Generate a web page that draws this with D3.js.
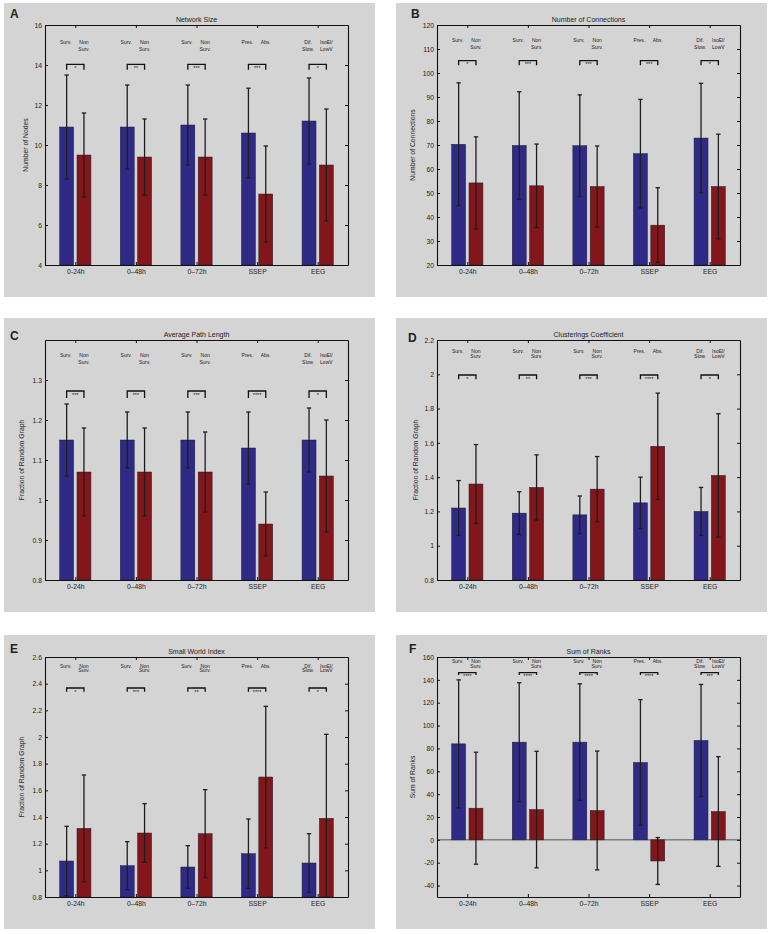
<!DOCTYPE html>
<html><head><meta charset="utf-8">
<script src="https://cdn.jsdelivr.net/npm/d3@7"></script>
<style>
body{margin:0;background:#fff}
svg{display:block}
text{font-family:"Liberation Sans",Arial,Helvetica,sans-serif;fill:#222}
</style>
</head><body>
<svg id="chart" width="772" height="934"></svg>
<script>
// ---------------- DATA ----------------
const categories = ["0-24h", "0\u201348h", "0\u201372h", "SSEP", "EEG"];
const blueGroupLabels = [["Surv."], ["Surv."], ["Surv."], ["Pres."], ["Dif.", "Slow."]];
const redGroupLabels  = [["Non", "Surv."], ["Non", "Surv."], ["Non", "Surv."], ["Abs."], ["IsoEl/", "LowV"]];

const panelLetters = ["A", "B", "C", "D", "E", "F"];
const titles = ["Network Size", "Number of Connections", "Average Path Length",
                "Clusterings Coefficient", "Small World Index", "Sum of Ranks"];
const yLabels = ["Number of Nodes", "Number of Connections", "Fraction of Random Graph",
                 "Fraction of Random Graph", "Fraction of Random Graph", "Sum of Ranks"];

// Network Size
const sizeBlue   = [10.9, 10.9, 11.0, 10.6, 11.2];
const sizeBlueSD = [2.6, 2.1, 2.0, 2.24, 2.15];
const sizeRed    = [9.5, 9.4, 9.4, 7.55, 9.0];
const sizeRedSD  = [2.1, 1.9, 1.9, 2.4, 2.8];
const sizeSig    = ["*", "**", "***", "***", "*"];
const sizeTicks  = [4, 6, 8, 10, 12, 14, 16];

// Number of Connections
const connBlue   = [70.3, 69.8, 69.7, 66.4, 72.9];
const connBlueSD = [25.6, 22.4, 21.2, 22.6, 22.8];
const connRed    = [54.2, 53.0, 52.7, 36.6, 52.7];
const connRedSD  = [19.2, 17.4, 16.9, 15.6, 21.8];
const connSig    = ["*", "***", "***", "***", "*"];
const connTicks  = [20, 30, 40, 50, 60, 70, 80, 90, 100, 110, 120];

// Average Path Length
const pathBlue   = [1.15, 1.15, 1.15, 1.13, 1.15];
const pathBlueSD = [0.09, 0.07, 0.07, 0.09, 0.08];
const pathRed    = [1.07, 1.07, 1.07, 0.94, 1.06];
const pathRedSD  = [0.11, 0.11, 0.10, 0.08, 0.14];
const pathSig    = ["***", "***", "***", "****", "*"];
const pathTicks  = [0.8, 0.9, 1.0, 1.1, 1.2, 1.3];

// Clustering Coefficient
const clusBlue   = [1.22, 1.19, 1.18, 1.25, 1.20];
const clusBlueSD = [0.16, 0.125, 0.11, 0.15, 0.14];
const clusRed    = [1.36, 1.34, 1.33, 1.58, 1.41];
const clusRedSD  = [0.23, 0.19, 0.19, 0.31, 0.36];
const clusSig    = ["*", "**", "***", "****", "*"];
const clusTicks  = [0.8, 1.0, 1.2, 1.4, 1.6, 1.8, 2.0, 2.2];

// Small World Index
const swiBlue    = [1.07, 1.035, 1.025, 1.125, 1.055];
const swiBlueSD  = [0.26, 0.18, 0.16, 0.26, 0.22];
const swiRed     = [1.315, 1.28, 1.275, 1.70, 1.39];
const swiRedSD   = [0.40, 0.22, 0.33, 0.53, 0.63];
const swiSig     = ["*", "***", "**", "****", "*"];
const swiTicks   = [0.8, 1.0, 1.2, 1.4, 1.6, 1.8, 2.0, 2.2, 2.4, 2.6];

// Sum of Ranks
const rankBlue   = [84, 85.5, 85.5, 67.7, 87];
const rankBlueSD = [56, 52, 51, 55, 49];
const rankRed    = [27.7, 26.5, 25.7, -18.5, 24.8];
const rankRedSD  = [49, 51, 52, 20.5, 48];
const rankSig    = ["****", "****", "****", "****", "***"];
const rankTicks  = [-40, -20, 0, 20, 40, 60, 80, 100, 120, 140, 160];

// ---------------- LAYOUT ----------------
const COLORS = {blue: "#2f2a86", red: "#82161a", bg: "#d4d4d4"};
const PW = 371, PH = 294;
const AX = 41, AY = 22, AW = 303, AH = 240;

const panelCfg = [
  {ox: 4,   oy: 3,   dom: [4, 16],    ticks: sizeTicks,  blue: sizeBlue, bsd: sizeBlueSD, red: sizeRed, rsd: sizeRedSD, sig: sizeSig,
   l1: 41, l2: 48, bt: 61.3, bb: 66.7, lx: 6,  ly: 15, yl: 24},
  {ox: 396, oy: 3,   dom: [20, 120],  ticks: connTicks,  blue: connBlue, bsd: connBlueSD, red: connRed, rsd: connRedSD, sig: connSig,
   l1: 39, l2: 46, bt: 57.7, bb: 62.3, lx: 15, ly: 15, yl: 19},
  {ox: 4,   oy: 318, dom: [0.8, 1.4], ticks: pathTicks,  blue: pathBlue, bsd: pathBlueSD, red: pathRed, rsd: pathRedSD, sig: pathSig,
   l1: 39, l2: 46, bt: 73, bb: 80, lx: 6, ly: 22, yl: 20},
  {ox: 396, oy: 318, dom: [0.8, 2.2], ticks: clusTicks,  blue: clusBlue, bsd: clusBlueSD, red: clusRed, rsd: clusRedSD, sig: clusSig,
   l1: 35, l2: 40, bt: 57, bb: 61.3, lx: 12, ly: 24, yl: 22},
  {ox: 4,   oy: 635, dom: [0.8, 2.6], ticks: swiTicks,   blue: swiBlue, bsd: swiBlueSD, red: swiRed, rsd: swiRedSD, sig: swiSig,
   l1: 32.5, l2: 37, bt: 53, bb: 56.7, lx: 6, ly: 18, yl: 20},
  {ox: 396, oy: 635, dom: [-50, 160], ticks: rankTicks,  blue: rankBlue, bsd: rankBlueSD, red: rankRed, rsd: rankRedSD, sig: rankSig,
   l1: 28, l2: 32.5, bt: 37.7, bb: 40, lx: 13, ly: 18, yl: 19}
];

const svg = d3.select("#chart");
const fmt = d => String(+d.toFixed(2));

panelCfg.forEach((p, pi) => {
  const g = svg.append("g").attr("transform", `translate(${p.ox},${p.oy})`);
  g.append("rect").attr("width", PW).attr("height", PH).attr("fill", COLORS.bg);

  const x = d3.scaleLinear().domain([0.5, 5.5]).range([AX, AX + AW]);
  const y = d3.scaleLinear().domain(p.dom).range([AY + AH, AY]);
  const step = AW / 5;
  const off = step * 0.143, bw = step * 0.23;
  const base = y(Math.max(p.dom[0], Math.min(p.dom[1], 0)));

  const series = [
    {vals: p.blue, sd: p.bsd, color: COLORS.blue, sgn: -1},
    {vals: p.red,  sd: p.rsd, color: COLORS.red,  sgn: 1}
  ];

  // zero line (only visible when 0 inside domain)
  if (p.dom[0] < 0 && p.dom[1] > 0) {
    g.append("line").attr("x1", AX).attr("x2", AX + AW).attr("y1", y(0)).attr("y2", y(0))
      .attr("stroke", "#333").attr("stroke-width", 0.8);
  }

  series.forEach(s => {
    g.append("g").selectAll("rect").data(s.vals).join("rect")
      .attr("x", (d, i) => x(i + 1) + s.sgn * off - bw / 2)
      .attr("width", bw)
      .attr("y", d => Math.min(y(d), base))
      .attr("height", d => Math.abs(y(d) - base))
      .attr("fill", s.color)
      .attr("stroke", "#1c1c30").attr("stroke-width", 0.5);
  });

  // error bars
  series.forEach(s => {
    const eg = g.append("g").attr("stroke", "#1e1e1e").attr("stroke-width", 1.3);
    s.vals.forEach((v, i) => {
      const cx = x(i + 1) + s.sgn * off;
      const hi = v + s.sd[i], lo = v - s.sd[i];
      const hiC = Math.min(hi, p.dom[1]), loC = Math.max(lo, p.dom[0]);
      eg.append("line").attr("x1", cx).attr("x2", cx).attr("y1", y(loC)).attr("y2", y(hiC));
      if (hi <= p.dom[1]) eg.append("line").attr("x1", cx - 2.2).attr("x2", cx + 2.2).attr("y1", y(hi)).attr("y2", y(hi));
      if (lo >= p.dom[0]) eg.append("line").attr("x1", cx - 2.2).attr("x2", cx + 2.2).attr("y1", y(lo)).attr("y2", y(lo));
    });
  });

  // axes
  const styleAxis = sel => {
    sel.selectAll("path").attr("stroke", "#111").attr("stroke-width", 1.1);
    sel.selectAll("line").attr("stroke", "#111").attr("stroke-width", 1);
    sel.selectAll("text").attr("font-size", "6.8px").attr("fill", "#222")
      .attr("font-family", '"Liberation Sans",Arial,sans-serif');
  };
  g.append("g").attr("transform", `translate(${AX},0)`)
    .call(d3.axisLeft(y).tickValues(p.ticks).tickFormat(fmt).tickSize(-3).tickSizeOuter(0).tickPadding(3))
    .call(styleAxis);
  g.append("g").attr("transform", `translate(${AX + AW},0)`)
    .call(d3.axisRight(y).tickValues(p.ticks).tickFormat("").tickSize(-3).tickSizeOuter(0))
    .call(styleAxis);
  g.append("g").attr("transform", `translate(0,${AY + AH})`)
    .call(d3.axisBottom(x).tickValues([1, 2, 3, 4, 5]).tickFormat((d) => categories[d - 1]).tickSize(-3).tickSizeOuter(0).tickPadding(4))
    .call(styleAxis);
  g.append("g").attr("transform", `translate(0,${AY})`)
    .call(d3.axisTop(x).tickValues([1, 2, 3, 4, 5]).tickFormat("").tickSize(-3).tickSizeOuter(0))
    .call(styleAxis);

  // group labels
  categories.forEach((c, i) => {
    const bx = x(i + 1) - off, rx = x(i + 1) + off;
    [[blueGroupLabels[i], bx - 1], [redGroupLabels[i], rx]].forEach(([lines, lx]) => {
      lines.forEach((t, li) => {
        g.append("text").attr("x", lx).attr("y", li === 0 ? p.l1 : p.l2)
          .attr("text-anchor", "middle").attr("font-size", "5px").attr("fill", "#333").text(t);
      });
    });
    // significance bracket
    g.append("path")
      .attr("d", `M${bx},${p.bb}V${p.bt}H${rx}V${p.bb}`)
      .attr("fill", "none").attr("stroke", "#111").attr("stroke-width", 1.3);
    g.append("text").attr("x", (bx + rx) / 2).attr("y", p.bt + 5.5)
      .attr("text-anchor", "middle").attr("font-size", "5.5px").attr("fill", "#333").text(p.sig[i]);
  });

  // title
  g.append("text").attr("x", AX + AW / 2).attr("y", AY - 3.5).attr("text-anchor", "middle")
    .attr("font-size", "7px").text(titles[pi]);
  // y label
  g.append("text").attr("transform", `translate(${p.yl},${AY + AH / 2}) rotate(-90)`)
    .attr("text-anchor", "middle").attr("font-size", "6.8px").text(yLabels[pi]);
  // panel letter
  g.append("text").attr("x", p.lx).attr("y", p.ly).attr("font-size", "12px").attr("font-weight", "bold")
    .attr("fill", "#111").text(panelLetters[pi]);
});
</script>
</body></html>
